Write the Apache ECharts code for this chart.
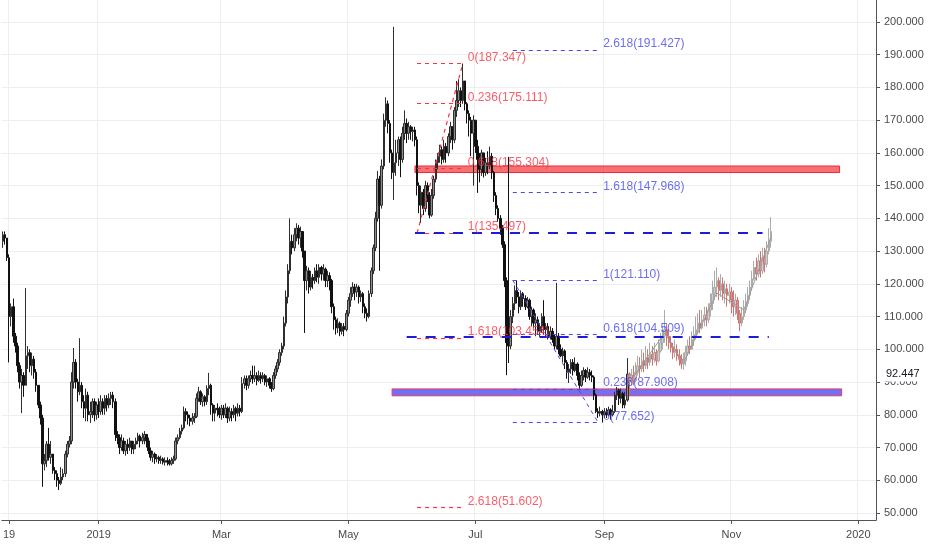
<!DOCTYPE html>
<html><head><meta charset="utf-8">
<script src="https://cdn.jsdelivr.net/npm/echarts@6/dist/echarts.min.js"></script>
<style>html,body{margin:0;padding:0;background:#fff}#c{width:932px;height:550px}</style>
</head><body><div id="c"></div>
<script>
// ---------- data ----------
const startDate = '2018-11-16';
const dayCount = 420;
const xTickDates = ['2018-11-19','2019-01-01','2019-03-01','2019-05-01','2019-07-01','2019-09-01','2019-11-01','2020-01-01'];
const xTickLabels = ['19','2019','Mar','May','Jul','Sep','Nov','2020'];
const yTicks = [50,60,70,80,90,100,110,120,130,140,150,160,170,180,190,200];
const lastPrice = 92.447;
const firstOpen = 133;

const closes = [
135,134,128,110,113,104,101,95,90,92,
89,98,99,95,97,93,89,83,79,65,
66,71,67,68,63,62,60,59,61,62,
68,71,72,90,96,90,87,89,84,82,
86,80,81,84,80,83,81,84,82,85,
83,85,86,84,74,73,70,72,69,71,
70,72,69.5,71,72,73.5,72,73,74,72,
69,67,68,66.5,67,66,66.5,65.5,66,65.5,
65,66,66.5,72,73,75,76,81,80,79,
78,79,79.5,85,87,84,85.5,84,88,89,
83,80.5,82,81.5,80,82,80,82,79,81,
80,82,80.5,82,81,89.5,91,89,91,92,
91,92,90.5,92,91,92,90,91,89,88,
92,94,96,99,101,108,116,124,133,131,
135,137,134,136,130,121,124,119,122,121,
124,122,125,123,124.5,121,122.5,121,113,109,
106.5,108,105.5,107,106,111,115,117,119,117.5,
119,116,117,113,111,110,117,124,131,140,
152,144,156,170,175,169,160,154,157,160,
164,158,166,169,166,168,166.5,167,164,150,
144,148,143,150,147,141,147,152,157,159,
161,158,162,160,165,168,164,173,176,179,
176,182,175,172,170,166,170,162,158,155,
160,154,157,156,159,154,147,143,140,137,
132,121,102,101,110,114,118,116,113,117,
115.5,113,115,110,112,108,109,105.5,107,110,
106,107,104,105.5,103,101,104,100,98,99.5,
96,93,94,96,93.5,95.5,92,89,92,93.5,
91.5,93,92,91.5,86,81,80.5,81,80,80.8,
80,81.5,80,81,86,87.5,85,86.5,83,84.5,
92.447];
const highs = [
136,136,134,129,114,115.5,105,102,96,94,
93,118.7,101,100,99,98,94,89,84,80,
68,72,76,72,68,64,63,61,64,63.5,
69,72,73.5,93,100.4,97,91,103.4,90,86,
88,87,84,85,85,84,85,86,85,86,
86,86.5,87,87,85,75,74,74,73,72,
72.5,73,72,72,73,74.5,74,74.5,75,74,
73,70,69,68.5,68,67.5,67.5,67,67,67,
66.5,67,67.5,73,74,76,77,82.5,82,81,
80,80.5,80.5,86.5,88.5,87.5,86.5,86,89,92.8,
89.5,83.5,83,83.5,82.5,83,83,83.5,82.5,82.5,
82,83,82.5,83.5,83,91.5,92,92,92,93.5,
95,95,93,93.5,93,93,92.5,92,91.5,90,
93,95,97,100,102,110,118,126,140,135,
137,138.5,138,137.5,136,130,125.5,125,124,123,
125,126,126,125.5,126,125,124,123.5,121.5,114,
110,109.5,108.5,108,108,112,116,119,120.5,120,
120,119.5,118,117.5,114,112.5,118,125,132,142,
154.5,153,158,172,177,176,170,161,198.5,164,
165,165,168,173,170.5,169.5,168.5,168,168,165,
151,150,149,151.5,151,148,149,153,158,160,
162.5,162,164,163,166,169.5,168,174,182,182.5,
180,187.3,182,175.5,173,171,171.5,170,164,160,
161,160,158.5,160.5,161.9,160,154.5,148,144,141,
138,133,122,158.8,112,116,119.5,121.1,117.5,118,
117.5,116.5,116,115.5,113,112.5,111,110,108,111,
115,108,108,107,106.5,104.5,120.3,105,101.5,100.5,
100,96.7,95.5,97,97,97.5,96,93,93.5,94.5,
94,94.5,94,93.5,92,86.5,82,82.5,81.5,82,
82,82.5,82,83,87,88.5,88,88,87,87,
97.3];
const lows = [
131,132,127,96,107,102,99,93,88,80.5,
85.5,89,94,93,92,91,87,82,77,58,
63,64,66,65,62,60,58,57,58.5,60,
61,67,70,71,88,88,84,86,82,79,
78,78,77.5,79,78,78.5,79,80,80,80,
81,82,83,82,72,71,68,69,68,67.5,
68,69,68,68,69.5,71,70,71,71,70,
68,66,65.5,65,65.5,65,65,64.8,64.5,64.5,
64.5,64.5,65,66,71,72.5,74,75.5,78,77,
76.5,77,77.5,79,84,83,82.5,82.6,83,86,
80,78,78,79.5,79,78.5,79,79,77.5,78,
78,79,78,79.5,79.5,80.5,88,87.5,88,90,
89.5,90,89,90,89.5,90,89,88.5,88,87,
87.5,91,93,95,98,100,107,114,123,129,
130,133,132,131,128,105,118,117,118,118.5,
120,120.5,120,121,121,119,119,118,111,106,
104.5,105,104,104.5,104,105.5,110,113,116,115,
116,114,114.5,111,109.5,108.5,109.5,116,123,130,
139,124,143,155,168,166,157,152,145.6,153,
156,152.6,157,164,163,164,164,163.5,162,147,
141.6,138.6,141,142,145,140,140.5,146,151,155,
157,156.5,157,157,159,163,161,163,171,174,
174,175,173,169,165,159,150,160,147.8,151,
153,152.5,153,153.5,155,152,145,141,139,135,
131,119,92.1,95.8,100,108,112,114,111,112,
113,112,112.5,109,107,106.5,104,104.5,103.8,105,
104.5,103.5,103,103,102,100,100,98.5,97.6,96,
94,91,89.7,92.5,92,93,90.5,88,88.5,90.5,
90,91,90.5,90,84.5,80.5,79,79.5,77.65,79,
79,79.5,78.5,79.5,80.5,84.5,83,83.5,82,82,
84];

// projected (bars pattern) candles
const projStart = 301;
const projCloses = [
90,92,90.5,93,95,94,96.5,95,97.5,96,
98.5,97,99,96.5,99.5,102,104,106,104,102,
100.5,99,100,98,97,95.5,96.5,99,101,100,
103,104.5,106,108,106.5,109,110.5,109,112,114,
117,119,121,118,120,117,118.5,116.5,117.5,115,
113,115,111,108,110,112,114,116.5,119,121.5,
125,123,127,124,128,126,130,133,136];
const projHighs = [
93,94,95,96,98,97.6,100,99,101,100,
102,101,102,100,103,105,107,112,108,106,
104,102,103,101.5,100,98.5,99,101,103,104,
105.5,107,110,111,112,112,113,113,114,117,
121,124,125,122,123,122,121,120,120,119,
118,117,116,112,113,115,117,119,121,124,
127,128,129,130,131,131,133,137,140.4];
const projLows = [
86,89,89,90,92,91.5,93,93,94,94,
95,95,96,95,96,99,100,102,101,100,
99,97,97.5,96.5,95,94,93.7,95,98,98.5,
100,101,103,105,105,106,107,107,108,110,
112,115,116,115,116,115,114,113,114,111,
110,110.5,109,105.5,107,109,111,113,115,118,
121,121,122,122,123,123.5,125,129,131];

// projection guide zigzag
const zigIdx = [300,318,327,343,356,369];
const zigVals = [89,105,95.8,117.2,112,134.3];

// Fibonacci tools
const redFibRatios = ['0','0.236','0.618','1','1.618','2.618'];
const redFibLevels = [187.347,175.111,155.304,135.497,103.454,51.602];
const blueFibRatios = ['2.618','1.618','1','0.618','0.236','0'];
const blueFibLevels = [191.427,147.968,121.110,104.509,87.908,77.652];
// horizontal dashed levels and zones
const hLineLevels = [135.497,103.8];
const redZone = [154,156];
const blueZone = [85.8,87.9];

// ---------- build ----------
const FONT = 'Liberation Sans, Arial, sans-serif';
const dates = [];
const d0 = new Date(startDate + 'T00:00:00Z');
for (let i = 0; i < dayCount; i++) dates.push(new Date(d0.getTime() + i * 86400000).toISOString().slice(0, 10));
const tickIdx = xTickDates.map(d => dates.indexOf(d));
const labelOf = {};
xTickDates.forEach((d, k) => labelOf[d] = xTickLabels[k]);
const isTick = (idx) => tickIdx.indexOf(idx) >= 0;

const realData = dates.map((d, i) => i < closes.length ? [i === 0 ? firstOpen : closes[i - 1], closes[i], lows[i], highs[i]] : '-');
const projData = dates.map((d, i) => {
  const k = i - projStart;
  if (k < 0 || k >= projCloses.length) return '-';
  const o = k === 0 ? closes[closes.length - 1] : projCloses[k - 1];
  return [o, projCloses[k], projLows[k], projHighs[k]];
});
const zigData = dates.map((d, i) => { const k = zigIdx.indexOf(i); return k >= 0 ? zigVals[k] : null; });

// positions (category indices) of drawings
const RED_SPAN = [199, 221];
const BLUE_SPAN = [245, 286];
const H_SPANS = [[198, 365], [194, 368]];
const RED_ZONE_SPAN = [198, 402];
const BLUE_ZONE_SPAN = [187, 403];

const RED = '#f23645', BLUE = '#4a4ae6', DBLUE = '#1c1cd8';

const redML = redFibLevels.map(v => [{coord: [RED_SPAN[0], v]}, {coord: [RED_SPAN[1], v]}]);
redML.push([{coord: [RED_SPAN[0], redFibLevels[3]]}, {coord: [RED_SPAN[1], redFibLevels[0]]}]);
const blueML = blueFibLevels.map(v => [{coord: [BLUE_SPAN[0], v]}, {coord: [BLUE_SPAN[1], v]}]);
blueML.push([{coord: [BLUE_SPAN[0], blueFibLevels[2]]}, {coord: [BLUE_SPAN[1], blueFibLevels[5]]}]);
const longML = hLineLevels.map((v, k) => [{coord: [H_SPANS[k][0], v]}, {coord: [H_SPANS[k][1], v]}]);

const lineSeries = (data, style, z) => ({
  type: 'line', data: [], z, silent: true, color: style.color,
  markLine: {silent: true, symbol: 'none', label: {show: false}, lineStyle: style, emphasis: {disabled: true}, data}
});

const redLabels = redFibLevels.map((v, k) => [RED_SPAN[1], v, redFibRatios[k] + '(' + v.toFixed(3) + ')']);
const blueLabels = blueFibLevels.map((v, k) => [BLUE_SPAN[1], v, blueFibRatios[k] + '(' + v.toFixed(3) + ')']);

const labelSeries = (data, color) => ({
  type: 'scatter', data, symbolSize: 2, itemStyle: {color: 'rgba(0,0,0,0)'}, z: 6, silent: true,
  label: {show: true, position: 'right', distance: 4, offset: [0, -6], formatter: p => p.value[2],
          color, fontSize: 12, fontFamily: FONT}
});

const chart = echarts.init(document.getElementById('c'), null, {renderer: 'canvas'});
chart.setOption({
  animation: false,
  backgroundColor: '#ffffff',
  textStyle: {fontFamily: FONT},
  grid: {left: 0, right: 56, top: 0, bottom: 30, containLabel: false},
  xAxis: {
    type: 'category', data: dates, boundaryGap: true,
    axisLine: {show: true, lineStyle: {color: '#50535e', width: 1}},
    axisTick: {show: true, alignWithLabel: true, interval: isTick, length: 4, lineStyle: {color: '#50535e'}},
    axisLabel: {interval: isTick, formatter: v => labelOf[v] || '', color: '#4a4a4a', fontSize: 11, margin: 9, fontFamily: FONT},
    splitLine: {show: true, interval: isTick, lineStyle: {color: '#eeeeee'}}
  },
  yAxis: {
    type: 'value', position: 'right', min: 47.85, max: 206.72,
    splitNumber: 16, minInterval: 10, maxInterval: 10,
    axisLine: {show: true, lineStyle: {color: '#50535e', width: 1}},
    axisTick: {show: true, customValues: yTicks, length: 4, lineStyle: {color: '#50535e'}},
    axisLabel: {customValues: yTicks,
                formatter: v => v.toFixed(3), color: '#4a4a4a', fontSize: 11, margin: 8, fontFamily: FONT},
    splitLine: {show: true, lineStyle: {color: '#eeeeee'}}
  },
  series: [
    {
      type: 'candlestick', data: realData, barWidth: 2, z: 2,
      itemStyle: {color: '#8c8c8c', color0: '#111111', borderColor: '#2e2e2e', borderColor0: '#111111', borderWidth: 1}
    },
    {
      type: 'candlestick', data: projData, barWidth: 2, z: 2,
      itemStyle: {color: '#cdd0cd', color0: '#e38e8e', borderColor: '#a9aca9', borderColor0: '#cf7373', borderWidth: 1}
    },
    {
      type: 'line', data: zigData, connectNulls: true, symbol: 'none', z: 3, silent: true,
      lineStyle: {color: '#9a9a9a', width: 1}
    },
    {
      type: 'line', data: [], z: 4, silent: true,
      markArea: {
        silent: true,
        data: [
          [{coord: [RED_ZONE_SPAN[0], redZone[0]], itemStyle: {color: 'rgba(242,60,60,0.72)', borderColor: '#e8283c', borderWidth: 1}},
           {coord: [RED_ZONE_SPAN[1], redZone[1]]}],
          [{coord: [BLUE_ZONE_SPAN[0], blueZone[0]], itemStyle: {color: 'rgba(92,92,238,0.88)', borderColor: '#e8386e', borderWidth: 1}},
           {coord: [BLUE_ZONE_SPAN[1], blueZone[1]]}]
        ]
      }
    },
    lineSeries(redML, {color: RED, width: 1.2, type: [4, 4]}, 5),
    lineSeries(blueML, {color: BLUE, width: 1, type: [4, 4]}, 5),
    lineSeries(longML, {color: DBLUE, width: 2, type: [10, 9]}, 5),
    labelSeries(redLabels, RED),
    labelSeries(blueLabels, BLUE),
    {
      type: 'line', data: [], z: 10, silent: true,
      markLine: {
        silent: true, symbol: 'none',
        lineStyle: {color: 'rgba(0,0,0,0)', width: 0},
        label: {show: true, position: 'end', distance: 8, formatter: () => lastPrice.toFixed(3),
                color: '#131722', backgroundColor: '#ffffff', padding: [2, 2], fontSize: 11, fontFamily: FONT},
        data: [{yAxis: lastPrice}]
      }
    }
  ]
});
</script>
</body></html>
